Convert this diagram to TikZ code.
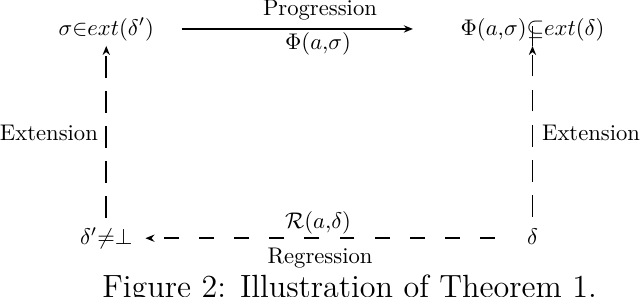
\documentclass[tikz,border=0pt]{standalone}
\usepackage{amsmath}
\usepackage{amssymb}
\usetikzlibrary{arrows.meta, positioning}

\begin{document}
\begin{tikzpicture}[>={Stealth[length=4pt,width=3.2pt]}, line width=0.8pt,
  state/.style={inner sep=0.333em, text height=1.5ex, text depth=0.25ex},
  vdash/.style={dash pattern=on 9.5pt off 6pt},
  hdash/.style={dash pattern=on 6.6pt off 8.9pt}]
\useasboundingbox (0,0) rectangle (9.94,4.60);
% --- corner states ---
\node[state] (sigma) at (1.65,4.15) {$\sigma{\in}ext(\delta')$};
\node[state] (phi) at (8.27,4.15) {$\Phi(a{,}\sigma){\subseteq}ext(\delta)$};
\node[state] (delp) at (1.65,0.90) {$\delta'{\neq}\bot$};
\node[state] (delta) at (8.27,0.90) {$\delta$};
% --- progression / regression ---
\draw[->, shorten <=0.30cm, shorten >=0.61cm] (sigma) -- (phi);
\node[anchor=base] (prog) at (4.97,4.36) {Progression};
\node[anchor=base] (progf) at (4.94,3.83) {$\Phi(a{,}\sigma)$};
\draw[->, hdash, shorten <=0.37cm, shorten >=0.07cm] (delta) -- (delp);
\node[anchor=base] (regf) at (4.94,1.056) {$\mathcal{R}(a{,}\delta)$};
\node[anchor=base] (reg) at (4.97,0.51) {Regression};
% --- extensions ---
\draw[->, vdash, shorten <=1.5pt] (delp) -- (sigma);
\draw[->, vdash, shorten <=2pt] (delta) -- (phi);
\draw (phi.south) -- ++(0,0.31);
\node[anchor=base] (extl) at (0.76,2.42) {Extension};
\node[anchor=base] (extr) at (9.18,2.42) {Extension};
% --- caption ---
\node[anchor=base, font=\fontsize{14.2}{17}\selectfont] (caption) at (5.43,-0.02) {Figure 2: Illustration of Theorem 1.};
\end{tikzpicture}
\end{document}
